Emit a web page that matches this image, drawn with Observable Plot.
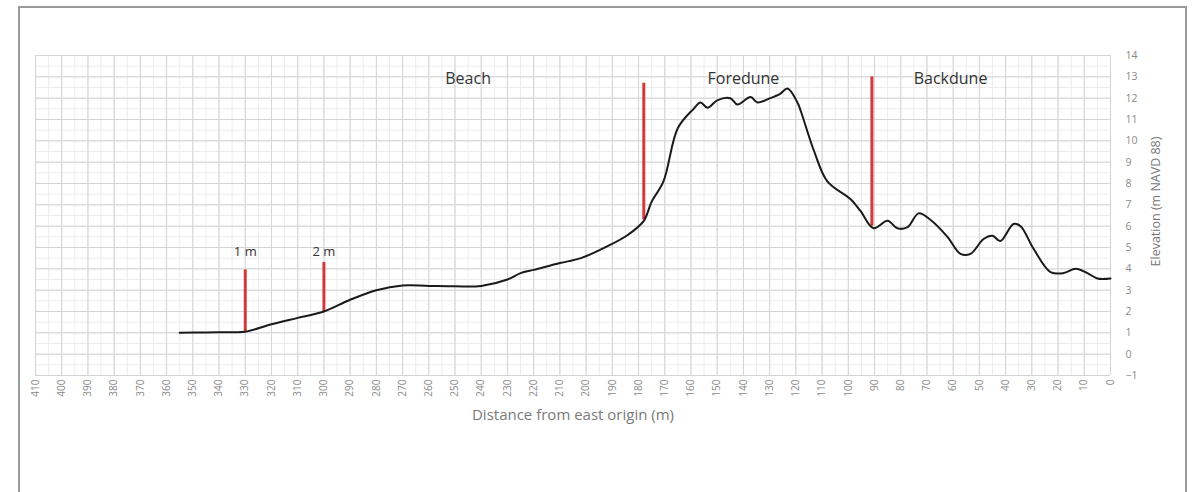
<!DOCTYPE html>
<html><head><meta charset="utf-8">
<script src="https://cdn.jsdelivr.net/npm/d3@7"></script>
<script src="https://cdn.jsdelivr.net/npm/@observablehq/plot@0.6"></script>
<style>
body{margin:0;background:#fff;font-family:"Open Sans",sans-serif;}
#wrap{position:relative;width:1198px;height:492px;overflow:hidden;}
#border{position:absolute;left:18px;top:6px;width:1169px;height:500px;border:2px solid #9a9a9a;box-sizing:border-box;pointer-events:none;}
</style></head>
<body><div id="wrap"><div id="border"></div></div>
<script>
// Profile: distance from east origin (m) and elevation (m NAVD 88)
const distance = [355,345,335,330,320,310,300,290,280,270,260,250,240,230,225,220,210,202,192,184,178,175,170.5,165,159,156.4,153.7,150,145,142.3,137.3,134.7,129.7,126,123.2,119.4,118,113,108,99,95.3,90.4,85,81.3,77.4,73.2,68.7,62.2,57.2,53.4,48.4,45,42,37,34.3,29.4,22.9,17.9,13.3,8.8,5,0];
const elevation = [1.0,1.02,1.03,1.05,1.4,1.7,2.0,2.55,3.0,3.22,3.2,3.18,3.2,3.5,3.8,3.95,4.27,4.5,5.05,5.6,6.25,7.15,8.1,10.6,11.5,11.8,11.55,11.9,12.0,11.7,12.05,11.8,12.0,12.2,12.45,11.8,11.35,9.5,8.1,7.25,6.7,5.9,6.25,5.9,5.95,6.6,6.3,5.5,4.7,4.7,5.4,5.55,5.3,6.1,6.0,4.95,3.85,3.8,4.0,3.8,3.55,3.55];

// Red boundary markers
const markerX = [330, 300, 178, 91];
const markerBottom = [1.05, 2.0, 6.3, 6.0];
const markerTop = [3.95, 4.3, 12.7, 13.0];

// Annotations
const markerLabels = ["1 m", "2 m"];
const markerLabelX = [330, 300];
const markerLabelY = [4.8, 4.8];
const zoneLabels = ["Beach", "Foredune", "Backdune"];
const zoneX = [245, 140, 61];
const zoneY = [12.9, 12.9, 12.9];

// Axes
const xTicks = d3.range(0, 411, 10);
const xMinor = d3.range(5, 410, 5);
const yTicks = d3.range(-1, 15, 1);
const yMinor = d3.range(-0.5, 14, 0.5);
const xTitle = "Distance from east origin (m)";
const yTitle = "Elevation (m NAVD 88)";

const profile = distance.map((d, i) => ({d, e: elevation[i]}));
const markers = markerX.map((x, i) => ({x, y1: markerBottom[i], y2: markerTop[i]}));
const mlabels = markerLabels.map((t, i) => ({t, x: markerLabelX[i], y: markerLabelY[i]}));
const zones = zoneLabels.map((t, i) => ({t, x: zoneX[i], y: zoneY[i]}));

const chart = Plot.plot({
  width: 1198, height: 492,
  marginLeft: 35, marginRight: 88, marginTop: 55, marginBottom: 117,
  style: {fontFamily: "Open Sans, sans-serif", background: "transparent"},
  x: {domain: [410, 0]},
  y: {domain: [-1, 14]},
  marks: [
    Plot.gridX(xMinor, {stroke: "#ececec", strokeOpacity: 1, strokeWidth: 1}),
    Plot.gridY(yMinor, {stroke: "#ececec", strokeOpacity: 1, strokeWidth: 1}),
    Plot.gridX(xTicks, {stroke: "#d4d4d4", strokeOpacity: 1, strokeWidth: 1}),
    Plot.gridY(yTicks, {stroke: "#d4d4d4", strokeOpacity: 1, strokeWidth: 1}),
    Plot.axisX({ticks: xTicks, tickSize: 0, tickPadding: 4, tickRotate: -90, fontSize: 10, fill: "#8a8a8a", label: null}),
    Plot.axisY({anchor: "right", ticks: yTicks, tickSize: 0, tickPadding: 15, fontSize: 10.5, fill: "#8a8a8a", label: null}),
    Plot.text([xTitle], {frameAnchor: "bottom", dy: 44, fontSize: 15, fill: "#7a7a7a"}),
    Plot.text([yTitle], {frameAnchor: "right", textAnchor: "middle", rotate: -90, dx: 45, dy: -14, fontSize: 12.5, fill: "#777"}),
    Plot.ruleX(markers, {x: "x", y1: "y1", y2: "y2", stroke: "#d23a3a", strokeWidth: 3}),
    Plot.line(profile, {x: "d", y: "e", stroke: "#1a1a1a", strokeWidth: 2, curve: "catmull-rom"}),
    Plot.text(mlabels, {x: "x", y: "y", text: "t", fontSize: 13, fill: "#333"}),
    Plot.text(zones, {x: "x", y: "y", text: "t", fontSize: 16, fill: "#333"})
  ]
});
document.getElementById("wrap").prepend(chart);
</script>
</body></html>
